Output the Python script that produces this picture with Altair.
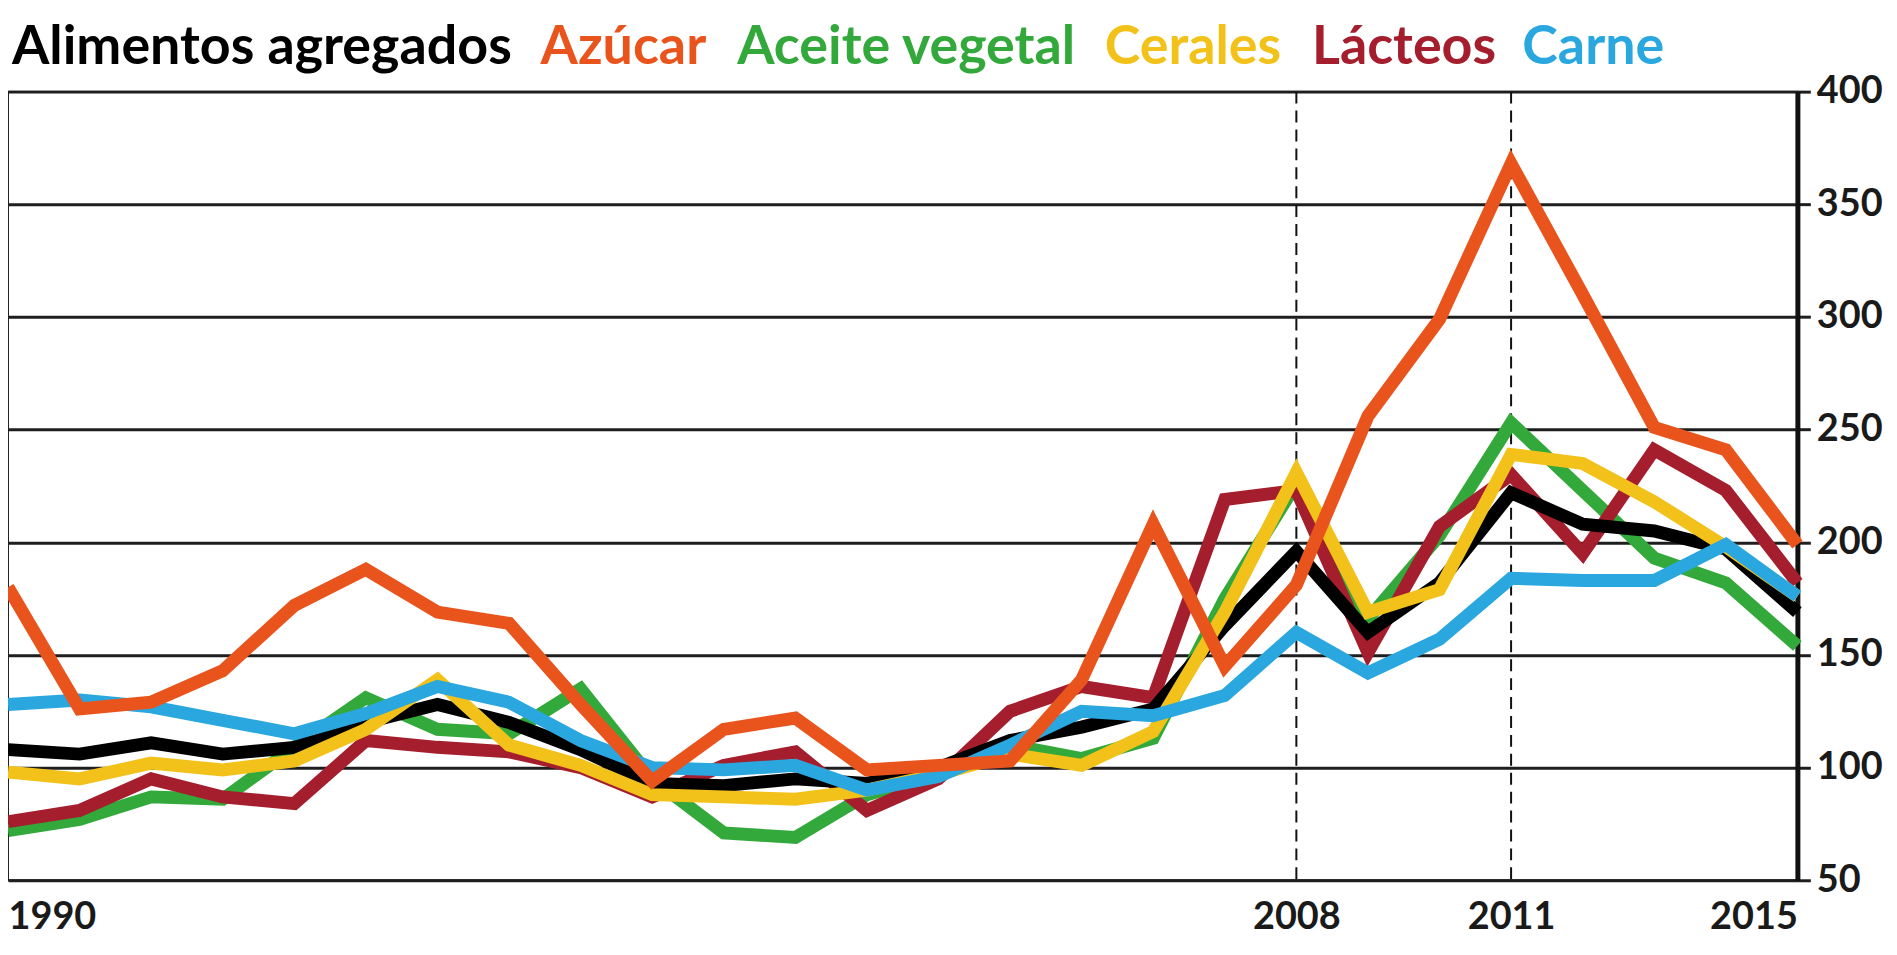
import altair as alt
import pandas as pd

# ---------------- data ----------------
years = list(range(1990, 2016))

alimentos = [108, 106, 111, 106, 109, 120, 128, 120, 108, 93, 92, 95, 93, 100, 112, 118, 126, 163, 196, 160, 182, 222, 208, 205, 197, 169]
azucar = [180, 126, 129, 143, 172, 188, 169, 164, 128, 94, 117, 122, 99, 101, 103, 139, 208, 145, 181, 256, 299, 368, 310, 251, 241, 199]
aceite = [72, 77, 87, 86, 109, 131, 117, 115, 135, 95, 71, 69, 88, 97, 110, 104, 113, 175, 226, 166, 203, 253, 223, 193, 182, 154]
cerales = [98, 95, 102, 99, 103, 117, 139, 110, 101, 88, 87, 86, 90, 97, 106, 101, 116, 169, 231, 169, 179, 239, 235, 218, 198, 176]
lacteos = [76, 81, 95, 87, 84, 112, 109, 107, 100, 87, 101, 107, 81, 95, 125, 136, 131, 219, 223, 151, 207, 230, 195, 241, 223, 182]
carne = [128, 130, 127, 121, 115, 124, 136, 129, 112, 100, 99, 101, 90, 96, 110, 125, 123, 132, 160, 142, 157, 184, 183, 183, 199, 176]

series_names = ["Alimentos agregados", "Azúcar", "Aceite vegetal", "Cerales", "Lácteos", "Carne"]
series_values = [alimentos, azucar, aceite, cerales, lacteos, carne]

marked_years = [2008, 2011]
x_labels = [1990, 2008, 2011, 2015]
y_ticks = [50, 100, 150, 200, 250, 300, 350, 400]

# ---------------- styling / layout ----------------
colors = {
    "Alimentos agregados": "#000000",
    "Azúcar": "#E9541D",
    "Aceite vegetal": "#33A93B",
    "Cerales": "#F2C21A",
    "Lácteos": "#A51E2D",
    "Carne": "#2AA7DF",
}
draw_order = ["Aceite vegetal", "Lácteos", "Alimentos agregados", "Cerales", "Carne", "Azúcar"]
header_x = [255, 618, 902, 1190, 1402, 1592]
header_y = -28
FONT = "Lato, Open Sans, sans-serif"

rows = []
for name, vals in zip(series_names, series_values):
    for yr, v in zip(years, vals):
        rows.append({"year": yr, "value": v, "serie": name})
df = pd.DataFrame(rows)

x_enc = alt.X(
    "year:Q",
    scale=alt.Scale(domain=[1990, 2015], nice=False, zero=False),
    axis=alt.Axis(
        values=x_labels, format="d", labelFlush=True, grid=False, ticks=False,
        domain=False, labelFontSize=38, labelFont=FONT, labelFontWeight="bold",
        labelColor="#1a1a1a", labelPadding=18, title=None,
    ),
)
y_enc = alt.Y(
    "value:Q",
    scale=alt.Scale(domain=[50, 400], nice=False, zero=False),
    axis=alt.Axis(
        orient="right", values=y_ticks, grid=True, gridColor="#1e1e1e", gridWidth=3,
        domain=True, domainColor="#111111", domainWidth=5, ticks=True, tickSize=13,
        tickWidth=3, tickColor="#1e1e1e", labelFontSize=38, labelFont=FONT,
        labelFontWeight="bold", labelColor="#1a1a1a", labelPadding=6, title=None,
    ),
)

layers = []
rules = alt.Chart(pd.DataFrame({"year": marked_years})).mark_rule(
    color="#111111", strokeWidth=2, strokeDash=[12, 7]
).encode(x=x_enc)
layers.append(rules)

for name in draw_order:
    layers.append(
        alt.Chart(df).transform_filter(alt.datum.serie == name).mark_line(
            color=colors[name], strokeWidth=13, strokeJoin="miter", strokeMiterLimit=4
        ).encode(x=x_enc, y=y_enc)
    )

for name, hx in zip(series_names, header_x):
    layers.append(
        alt.Chart(pd.DataFrame({"t": [name]})).mark_text(
            font=FONT, fontSize=54, fontWeight="bold", color=colors[name],
            align="center", baseline="alphabetic",
        ).encode(text="t:N", x=alt.value(hx), y=alt.value(header_y))
    )

chart = alt.layer(*layers).properties(
    width=1797,
    height=792,
    autosize=alt.AutoSizeParams(type="none"),
    padding={"left": 0, "top": 82, "right": 92, "bottom": 60},
    background="white",
).configure_view(stroke="#222222", strokeWidth=2)

chart.save("out.html", embed_options={"renderer": "svg", "actions": False})
